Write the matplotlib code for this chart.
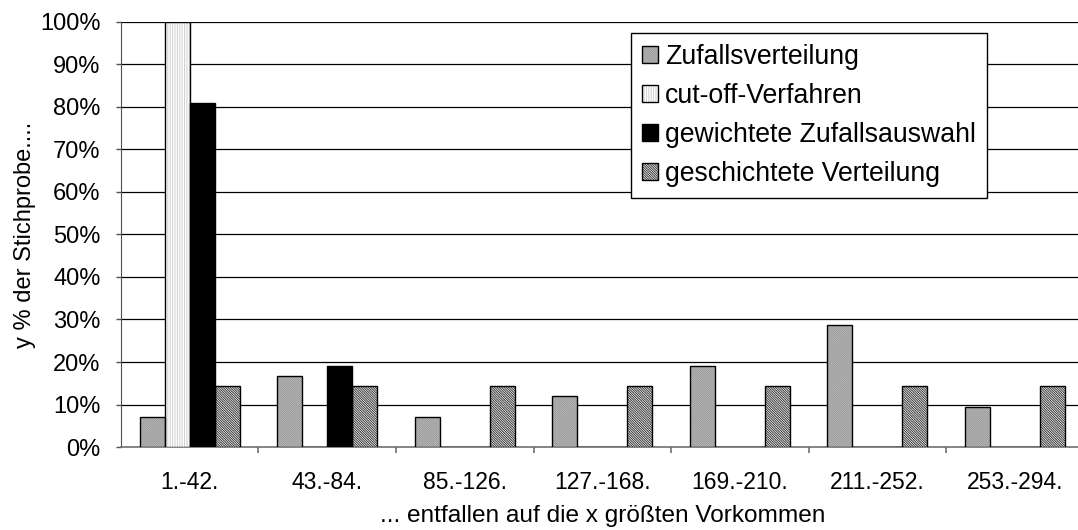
import numpy as np
import matplotlib
matplotlib.use("Agg")
import matplotlib.pyplot as plt
from matplotlib.patches import Patch
from matplotlib.ticker import FuncFormatter

plt.rcParams["font.family"] = ["Liberation Sans", "DejaVu Sans"]
plt.rcParams["hatch.linewidth"] = 0.7

# data (percent of the sample)
groups = ["1.-42.", "43.-84.", "85.-126.", "127.-168.", "169.-210.", "211.-252.", "253.-294."]
zufall = [7.1, 16.7, 7.1, 11.9, 19.0, 28.6, 9.5]
cutoff = [100.0, 0, 0, 0, 0, 0, 0]
gewichtet = [81.0, 19.0, 0, 0, 0, 0, 0]
geschichtet = [14.3, 14.3, 14.3, 14.3, 14.3, 14.3, 14.3]

series = [
    ("Zufallsverteilung", zufall, "#c4c4c4", "/" * 16, "#9a9a9a"),
    ("cut-off-Verfahren", cutoff, "white", "|" * 7, "#cfcfcf"),
    ("gewichtete Zufallsauswahl", gewichtet, "black", None, None),
    ("geschichtete Verteilung", geschichtet, "white", "\\" * 14, "#383838"),
]

fig = plt.figure(figsize=(10.78, 5.30), dpi=100)
ax = fig.add_axes([0.1122, 0.1566, 0.893, 0.8019])

x = np.arange(len(groups))
w = 0.182
handles = []
for i, (name, vals, fc, hatch, hc) in enumerate(series):
    pos = x + (i - 1.5) * w
    # fill, hatch overlay (own colour), then black outline
    ax.bar(pos, vals, width=w, color=fc, edgecolor="none", linewidth=0, zorder=3)
    parts = [Patch(facecolor=fc, edgecolor="none")]
    if hatch:
        ax.bar(pos, vals, width=w, color="none", edgecolor=hc, hatch=hatch,
               linewidth=0, zorder=4)
        parts.append(Patch(facecolor="none", edgecolor=hc, hatch=hatch, linewidth=0))
    ax.bar(pos, vals, width=w, color="none", edgecolor="black", linewidth=1.0, zorder=5)
    parts.append(Patch(facecolor="none", edgecolor="black", linewidth=1.0))
    handles.append(tuple(parts))

ax.set_xlim(-0.5, len(groups) - 0.5)
ax.set_ylim(0, 100)
ax.set_yticks(np.arange(0, 101, 10))
ax.yaxis.set_major_formatter(FuncFormatter(lambda v, p: f"{v:.0f}%"))
for yv in range(10, 101, 10):
    ax.axhline(yv, color="black", linewidth=0.9, zorder=1)

ax.set_xticks(x)
ax.set_xticklabels(groups)
ax.set_xticks(np.arange(0.5, len(groups) - 0.5, 1), minor=True)
ax.tick_params(axis="x", which="major", length=0, pad=17, labelsize=16.5)
ax.tick_params(axis="x", which="minor", length=4, color="#707070", width=1.2)
ax.tick_params(axis="y", length=3.6, color="#505050", width=1.0, labelsize=17, pad=11)

for s in ["top", "right"]:
    ax.spines[s].set_visible(False)
ax.spines["left"].set_color("#505050")
ax.spines["bottom"].set_color("#707070")
ax.spines["bottom"].set_linewidth(1.2)

ax.set_xlabel("... entfallen auf die x größten Vorkommen", fontsize=17.6, labelpad=8)
ax.set_ylabel("y % der Stichprobe....", fontsize=17, labelpad=3)

leg = ax.legend(handles, [s[0] for s in series], loc="upper left",
                bbox_to_anchor=(0.53, 0.974), fontsize=19.2, frameon=True,
                fancybox=False, edgecolor="black", framealpha=1,
                handlelength=0.6, handleheight=0.6, handletextpad=0.25,
                labelspacing=0.48, borderpad=0.42, borderaxespad=0)
leg.get_frame().set_linewidth(1.0)
leg.set_zorder(10)

fig.savefig("out.png", dpi=100)
